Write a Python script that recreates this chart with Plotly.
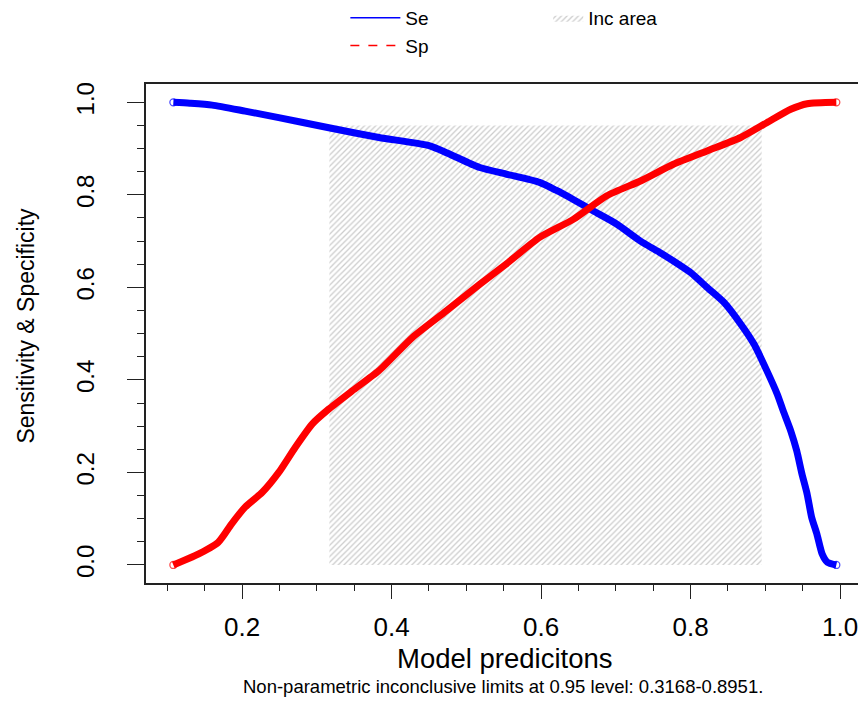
import plotly.graph_objects as go

# ---- data ----
se_x = [0.108, 0.13, 0.16, 0.204, 0.249, 0.316, 0.383, 0.451, 0.475, 0.518, 0.553,
        0.598, 0.620, 0.643, 0.670, 0.701, 0.733, 0.755, 0.777, 0.800, 0.822, 0.845,
        0.867, 0.885, 0.902, 0.916, 0.924, 0.934, 0.942, 0.949, 0.956, 0.962, 0.969,
        0.976, 0.983, 0.995]
se_y = [1.0, 0.998, 0.994, 0.981, 0.967, 0.945, 0.924, 0.906, 0.890, 0.859, 0.845,
        0.827, 0.810, 0.790, 0.765, 0.737, 0.700, 0.679, 0.657, 0.632, 0.600, 0.567,
        0.521, 0.477, 0.420, 0.369, 0.333, 0.290, 0.247, 0.197, 0.153, 0.103, 0.067,
        0.024, 0.006, 0.0]

sp_x = [0.108, 0.137, 0.168, 0.186, 0.204, 0.227, 0.249, 0.271, 0.294, 0.316, 0.347,
        0.383, 0.428, 0.473, 0.518, 0.553, 0.598, 0.643, 0.688, 0.733, 0.777, 0.822,
        0.867, 0.902, 0.934, 0.956, 0.995]
sp_y = [0.0, 0.020, 0.049, 0.089, 0.125, 0.157, 0.200, 0.254, 0.305, 0.337, 0.376,
        0.420, 0.492, 0.549, 0.607, 0.650, 0.708, 0.747, 0.798, 0.830, 0.866, 0.895,
        0.924, 0.956, 0.985, 0.997, 1.0]

inc_limits = [0.3168, 0.8951]
inc_top = 0.95
conf_level = 0.95

x_ticks = [0.2, 0.4, 0.6, 0.8, 1.0]
x_ticklabels = ["0.2", "0.4", "0.6", "0.8", "1.0"]
y_ticks = [0.0, 0.2, 0.4, 0.6, 0.8, 1.0]
y_ticklabels = ["0.0", "0.2", "0.4", "0.6", "0.8", "1.0"]

FONT = "Liberation Sans, Arial, sans-serif"
BLUE = "#0000FF"
RED = "#FF0000"


def end_sizes(n, s=7):
    return [s if i in (0, n - 1) else 0 for i in range(n)]


fig = go.Figure()

# inconclusive area (hatched)
fig.add_trace(go.Scatter(
    x=[inc_limits[0], inc_limits[1], inc_limits[1], inc_limits[0], inc_limits[0]],
    y=[0, 0, inc_top, inc_top, 0],
    mode="lines", fill="toself", line=dict(width=0, color="rgba(0,0,0,0)"),
    fillcolor="white",
    fillpattern=dict(shape="/", fgcolor="#999999", bgcolor="white", size=4, solidity=0.32),
    name="Inc area", legend="legend2", showlegend=True, hoverinfo="skip",
))

# curves
fig.add_trace(go.Scatter(
    x=se_x, y=se_y, mode="lines+markers",
    line=dict(color=BLUE, width=7, shape="spline", smoothing=0.6),
    marker=dict(symbol="circle-open", size=end_sizes(len(se_x)), color=BLUE,
                line=dict(width=1.3, color=BLUE)),
    name="Se", showlegend=False,
))
fig.add_trace(go.Scatter(
    x=sp_x, y=sp_y, mode="lines+markers",
    line=dict(color=RED, width=7, shape="spline", smoothing=0.6),
    marker=dict(symbol="circle-open", size=end_sizes(len(sp_x)), color=RED,
                line=dict(width=1.3, color=RED)),
    name="Sp", showlegend=False,
))

# legend-only entries (R legend shows lines only)
fig.add_trace(go.Scatter(x=[None], y=[None], mode="lines",
                         line=dict(color=BLUE, width=1.5), name="Se", legend="legend"))
fig.add_trace(go.Scatter(x=[None], y=[None], mode="lines",
                         line=dict(color=RED, width=1.5, dash="dash"), name="Sp", legend="legend"))

# page body has an 8px margin: figure is drawn from (8, 8) of the window
OFF = 8
W, H = 866 - OFF, 727 - OFF
L, T = 145.5 - OFF, 84 - OFF
R = W - (863 - OFF)
B = H - (583 - OFF)
pw = W - L - R
ph = H - T - B


def px_x(p):
    return (p - OFF - L) / pw


def px_y(p):
    return (H - B - (p - OFF)) / ph


axis_common = dict(
    showline=True, linecolor="#222", linewidth=1.5, mirror=True,
    ticks="outside", tickcolor="#222", tickwidth=1.3,
    showgrid=False, zeroline=False, automargin=False,
)

fig.update_layout(
    width=W, height=H,
    margin=dict(l=L, r=R, t=T, b=B, autoexpand=False),
    paper_bgcolor="white", plot_bgcolor="white",
    font=dict(family=FONT, color="black"),
    xaxis=dict(
        range=[0.0714, 1.0307], tickvals=x_ticks, ticktext=x_ticklabels,
        ticklen=14, tickfont=dict(size=26), ticklabelstandoff=6,
        minor=dict(dtick=0.05, tick0=0, ticks="outside", ticklen=6, tickcolor="#222", tickwidth=1.1),
        **axis_common,
    ),
    yaxis=dict(
        range=[-0.039, 1.0396], tickvals=y_ticks, ticktext=y_ticklabels,
        ticklen=17, tickfont=dict(size=24), tickangle=-90, ticklabelstandoff=24,
        minor=dict(dtick=0.05, tick0=0, ticks="outside", ticklen=7, tickcolor="#222", tickwidth=1.1),
        **axis_common,
    ),
    legend=dict(
        x=px_x(345), xanchor="left", y=px_y(-1), yanchor="top",
        font=dict(size=19), bgcolor="rgba(0,0,0,0)", itemwidth=50,
        tracegroupgap=0,
    ),
    legend2=dict(
        x=px_x(548), xanchor="left", y=px_y(-1), yanchor="top",
        font=dict(size=19), bgcolor="rgba(0,0,0,0)", itemwidth=30,
    ),
    annotations=[
        dict(text="Model predicitons", xref="paper", yref="paper",
             x=px_x(505), y=px_y(658), xanchor="center", yanchor="middle",
             showarrow=False, font=dict(size=27.5)),
        dict(text=f"Non-parametric inconclusive limits at {conf_level} level: "
                  f"{inc_limits[0]:.4f}-{inc_limits[1]:.4f}.",
             xref="paper", yref="paper",
             x=px_x(503), y=px_y(686), xanchor="center", yanchor="middle",
             showarrow=False, font=dict(size=18.5)),
        dict(text="Sensitivity & Specificity", xref="paper", yref="paper",
             x=px_x(25), y=px_y(326), xanchor="center", yanchor="middle",
             textangle=-90, showarrow=False, font=dict(size=23)),
    ],
)

fig.write_html("out.html")
